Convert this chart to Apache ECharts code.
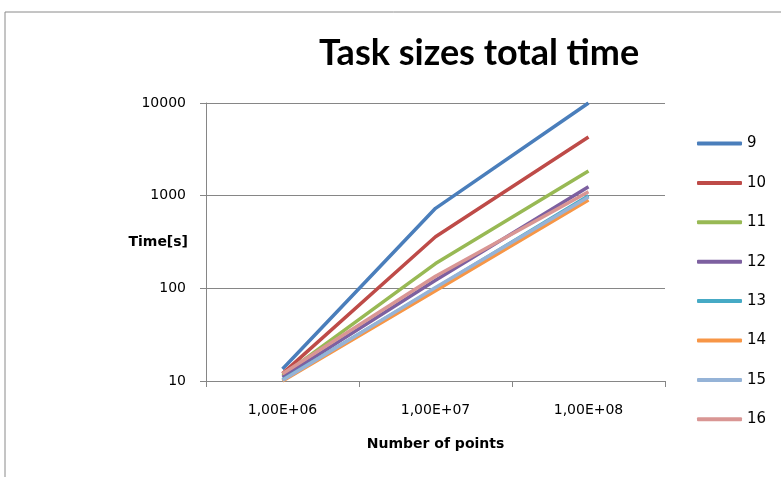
<!DOCTYPE html>
<html>
<head>
<meta charset="utf-8">
<script src="https://cdn.jsdelivr.net/npm/echarts@6/dist/echarts.min.js"></script>
<style>
  html, body { margin: 0; padding: 0; background: #fff; }
  #chart { width: 781px; height: 477px; }
</style>
</head>
<body>
<div id="chart"></div>
<script>
// x categories (number of points)
const categories = ["1,00E+06", "1,00E+07", "1,00E+08"];
const seriesNames = ["9", "10", "11", "12", "13", "14", "15", "16"];

// total time in seconds, one array per task size
const time9 = [13.5, 730, 10000];
const time10 = [12, 360, 4300];
const time11 = [11.5, 185, 1850];
const time12 = [11, 122, 1250];
const time13 = [10.3, 100, 1000];
const time14 = [10, 94, 900];
const time15 = [10.2, 102, 970];
const time16 = [12, 135, 1100];

const allData = [time9, time10, time11, time12, time13, time14, time15, time16];
const colors = ["#4A7EBB", "#BE4B48", "#98B954", "#7D60A0", "#46AAC5", "#F79646", "#95B3D7", "#D99694"];

const chart = echarts.init(document.getElementById("chart"));

const axisFont = { fontFamily: "DejaVu Sans", fontSize: 14, color: "#000" };

const option = {
  animation: false,
  backgroundColor: "#fff",
  color: colors,
  title: {
    text: "Task sizes total time",
    left: 314,
    top: 30,
    textStyle: {
      fontFamily: "Lato",
      fontWeight: "bold",
      fontSize: 36,
      color: "#000",
    },
  },
  graphic: [
    {
      type: "rect",
      shape: { x: 5, y: 12, width: 800, height: 500 },
      style: { fill: null, stroke: "#8a8a8a", lineWidth: 1 },
      silent: true,
    },
  ],
  legend: {
    orient: "vertical",
    left: 692,
    top: 131,
    icon: "roundRect",
    itemWidth: 45,
    itemHeight: 4,
    itemGap: 24.4,
    textStyle: { fontFamily: "DejaVu Sans", fontSize: 15, color: "#000", lineHeight: 14 },
    data: seriesNames,
  },
  grid: {
    left: 206,
    right: 116,
    top: 103,
    bottom: 96,
  },
  xAxis: {
    type: "category",
    data: categories,
    boundaryGap: true,
    name: "Number of points",
    nameLocation: "middle",
    nameGap: 56,
    nameMoveOverlap: false,
    nameTextStyle: { fontFamily: "DejaVu Sans", fontWeight: "bold", fontSize: 14, color: "#000" },
    axisLine: { lineStyle: { color: "#868686", width: 1 } },
    axisTick: { show: true, length: 6, lineStyle: { color: "#868686" } },
    axisLabel: Object.assign({ margin: 22 }, axisFont),
  },
  yAxis: {
    type: "log",
    logBase: 10,
    min: 10,
    max: 10000,
    name: "Time[s]",
    nameLocation: "middle",
    nameRotate: 0,
    nameGap: 18,
    nameMoveOverlap: false,
    nameTextStyle: { fontFamily: "DejaVu Sans", fontWeight: "bold", fontSize: 14, color: "#000", align: "right" },
    axisLine: { show: true, lineStyle: { color: "#868686", width: 1 } },
    axisTick: { show: true, length: 6, lineStyle: { color: "#868686" } },
    splitLine: { lineStyle: { color: "#868686", width: 1 } },
    axisLabel: Object.assign({ margin: 20, formatter: (v) => String(v) }, axisFont),
  },
  series: seriesNames.map((name, i) => ({
    name: name,
    type: "line",
    data: allData[i],
    symbol: "none",
    lineStyle: { width: 3.5, color: colors[i] },
    itemStyle: { color: colors[i] },
  })),
};

chart.setOption(option);
</script>
</body>
</html>
